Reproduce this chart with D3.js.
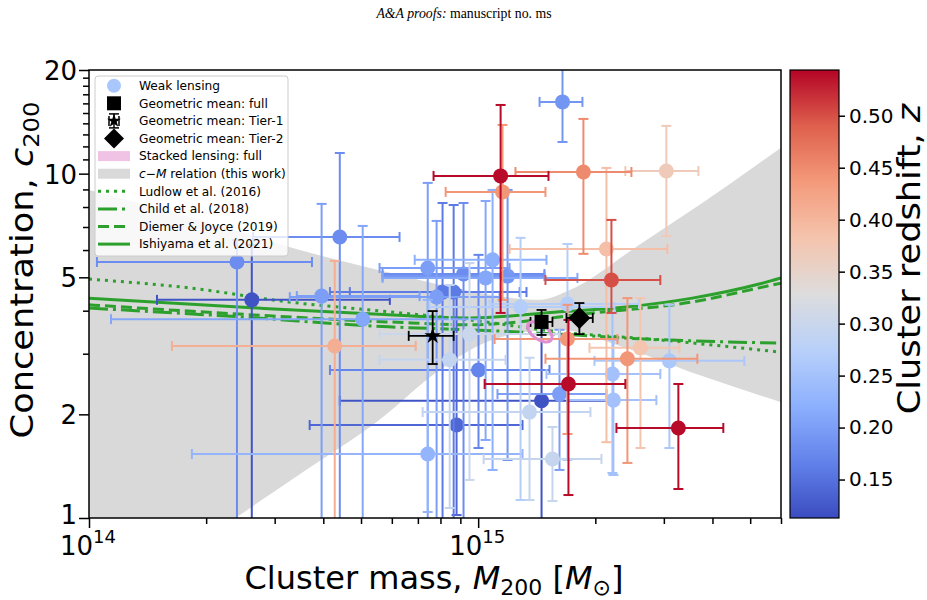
<!DOCTYPE html>
<html>
<head>
<meta charset="utf-8">
<script src="https://cdn.jsdelivr.net/npm/d3@7"></script>
<style>
  body { margin: 0; background: #fff; }
  svg { display: block; }
  text { font-family: "DejaVu Sans", sans-serif; fill: #000; }
</style>
</head>
<body>
<svg id="chart" width="927" height="600"></svg>
<script>
// masses in units of 1e14 Msun
const clusterMass = [16.47, 11.42, 11.55, 18.64, 30.45, 21.36, 22.0, 17.06, 16.96, 26.12,
  24.18, 31.0, 22.13, 22.26, 32.69, 10.02, 16.18, 14.55, 13.55, 15.52,
  8.80, 7.42, 8.45, 9.50, 2.40, 2.62, 3.96, 4.28, 5.05, 4.41,
  7.42, 10.89, 9.17, 10.45, 11.9, 8.10, 8.65, 7.82, 12.85, 16.96];
const clusterConc = [16.16, 9.85, 8.85, 10.11, 10.18, 6.04, 4.91, 2.45, 3.31, 3.12,
  2.90, 2.86, 2.62, 2.20, 1.826, 2.69, 2.29, 2.19, 2.03, 1.484,
  1.862, 1.534, 2.88, 3.42, 5.54, 4.30, 4.41, 3.16, 3.78, 6.55,
  5.32, 5.62, 5.11, 4.98, 5.04, 4.53, 4.53, 4.38, 4.10, 4.18];
const massLow = [14.38, 7.68, 8.25, 12.47, 23.89, 12.04, 14.89, 10.39, 11.02, 19.32,
  14.89, 19.9, 14.98, 16.96, 22.66, 4.16, 11.21, 4.41, 7.20, 10.33,
  3.69, 1.838, 5.58, 5.58, 1.048, 1.495, 3.42, 1.633, 1.139, 2.64,
  5.58, 6.87, 5.68, 5.68, 5.68, 4.16, 4.68, 3.28, 7.50, 10.7];
const massHigh = [18.53, 15.16, 14.89, 24.76, 36.8, 30.63, 29.38, 23.89, 22.8, 32.9,
  36.58, 48.3, 29.38, 28.7, 42.65, 15.25, 21.36, 22.0, 19.43, 20.74,
  13.0, 13.0, 11.76, 16.18, 3.74, 5.93, 7.07, 6.91, 10.08, 6.28,
  12.04, 14.98, 14.8, 17.99, 14.8, 13.31, 12.78, 11.35, 22.39, 25.9];
const concLow = [12.36, 3.94, 4.30, 5.85, 6.59, 1.66, 3.94, 1.166, 1.754, 1.597,
  1.445, 1.597, 1.351, 1.333, 1.214, 1.597, 1.379, 0.9, 1.128, 1.12,
  1.02, 1.041, 1.069, 1.29, 0.9, 0.9, 0.9, 0.9, 0.9, 0.9,
  0.9, 1.379, 0.9, 1.685, 1.474, 0.9, 0.9, 0.9, 1.128, 1.474];
const concHigh = [20.3, 15.83, 13.85, 14.42, 13.76, 10.39, 7.34, 3.76, 4.16, 4.35,
  4.35, 4.16, 3.94, 3.29, 2.45, 5.81, 3.52, 3.64, 2.92, 1.838,
  4.59, 4.30, 4.75, 5.50, 6.42, 6.21, 8.17, 5.58, 7.05, 11.48,
  9.40, 8.97, 8.22, 8.33, 8.97, 8.22, 8.11, 7.29, 6.51, 6.25];
const clusterZ = [0.19, 0.54, 0.44, 0.45, 0.37, 0.39, 0.50, 0.54, 0.44, 0.38,
  0.44, 0.26, 0.25, 0.25, 0.54, 0.17, 0.20, 0.12, 0.29, 0.295,
  0.14, 0.23, 0.29, 0.30, 0.18, 0.12, 0.20, 0.41, 0.21, 0.18,
  0.20, 0.22, 0.18, 0.21, 0.19, 0.16, 0.16, 0.20, 0.27, 0.27];

// geometric means: full, Tier-1, Tier-2
const meanNames = ['full', 'tier1', 'tier2'];
const meanMass = [14.55, 7.64, 18.2];
const meanConc = [3.71, 3.38, 3.81];
const meanMassLow = [13.63, 6.63, 16.86];
const meanMassHigh = [15.52, 8.65, 19.7];
const meanConcLow = [3.40, 2.80, 3.42];
const meanConcHigh = [4.02, 3.99, 4.21];

// stacked lensing result
const stackedMass = 14.4;
const stackedConc = 3.47;

// c-M relation band (this work)
const bandUpperMass = [1.0, 1.93, 3.48, 6.28, 10.1, 14.4, 17.2, 25.9, 37.0, 60];
const bandUpperConc = [8.97, 7.34, 6.00, 5.08, 4.50, 4.30, 4.59, 6.21, 8.11, 11.9];
const bandLowerMass = [1.0, 2.38, 3.48, 5.58, 7.96, 10.1, 12.8, 16.2, 22.7, 37.0, 60];
const bandLowerConc = [0.5, 1.0, 1.34, 1.93, 2.69, 3.18, 3.45, 3.52, 3.18, 2.60, 2.17];

// literature c-M relations
const ludlowMass = [1.0, 1.806, 3.26, 5.89, 9.51, 16.18, 29.2, 60];
const ludlowConc = [4.94, 4.66, 4.24, 3.97, 3.76, 3.47, 3.29, 3.03];
const childMass = [1.0, 2.43, 5.89, 9.51, 16.18, 24.0, 58.3];
const childConc = [4.07, 3.84, 3.59, 3.52, 3.42, 3.33, 3.22];
const diemerMass = [1.0, 2.43, 5.89, 9.51, 19.7, 35.5, 52.7, 60];
const diemerConc = [4.16, 3.91, 3.71, 3.64, 3.94, 4.24, 4.66, 4.81];
const ishiyamaMass = [1.0, 2.43, 5.89, 9.51, 16.18, 24.0, 35.5, 52.7, 60];
const ishiyamaConc = [4.35, 4.10, 3.89, 3.81, 3.97, 4.10, 4.35, 4.78, 4.98];

const xMajor = [1, 10];
const xMajorLabels = ['14', '15'];
const xMinor = [2, 3, 4, 5, 6, 7, 8, 9, 20, 30, 40, 50, 60];
const yLabelled = [1, 2, 5, 10, 20];
const yMinor = [3, 4, 6, 7, 8, 9, 11, 12, 13, 14, 15, 16, 17, 18, 19];
const zTicks = [0.15, 0.20, 0.25, 0.30, 0.35, 0.40, 0.45, 0.50];
const zRange = [0.113, 0.544];

const legendLabels = ['Weak lensing', 'Geometric mean: full', 'Geometric mean: Tier-1',
  'Geometric mean: Tier-2', 'Stacked lensing: full', 'c\u2212M relation (this work)',
  'Ludlow et al. (2016)', 'Child et al. (2018)', 'Diemer & Joyce (2019)', 'Ishiyama et al. (2021)'];

// coolwarm colormap stops
const coolwarmStops = ['#3b4cc0', '#6282ea', '#8db0fe', '#b8d0f9', '#dddddd',
  '#f5c4ad', '#f49a7b', '#de604d', '#b40426'];

const svg = d3.select('#chart');
const plotL = 89, plotR = 781, plotT = 70, plotB = 518;
const green = '#2ca02c';

const x = d3.scaleLog().domain([1, 60]).range([plotL, plotR]);
const y = d3.scaleLog().domain([1, 20]).range([plotB, plotT]);
const zNorm = d3.scaleLinear().domain(zRange).range([0, 1]).clamp(true);
const coolwarm = d3.scaleLinear()
  .domain(d3.range(coolwarmStops.length).map(i => i / (coolwarmStops.length - 1)))
  .range(coolwarmStops)
  .interpolate(d3.interpolateRgb);
const zColor = z => coolwarm(zNorm(z));

const defs = svg.append('defs');
defs.append('clipPath').attr('id', 'clip')
  .append('rect')
  .attr('x', plotL).attr('y', plotT)
  .attr('width', plotR - plotL).attr('height', plotB - plotT);

// title
const title = svg.append('text')
  .attr('x', 464).attr('y', 18)
  .attr('text-anchor', 'middle')
  .style('font-family', '"Liberation Serif", serif')
  .style('font-size', '13.8px');
title.append('tspan').style('font-style', 'italic').text('A&A proofs:');
title.append('tspan').text(' manuscript no. ms');

const plot = svg.append('g').attr('clip-path', 'url(#clip)');

// grey band
const lineGen = d3.line().x(d => x(d[0])).y(d => y(d[1])).curve(d3.curveMonotoneX);
const upperPts = bandUpperMass.map((m, i) => [m, bandUpperConc[i]]);
const lowerPts = bandLowerMass.map((m, i) => [m, bandLowerConc[i]]);
const upperPath = lineGen(upperPts);
const lowerPath = lineGen(lowerPts.slice().reverse());
plot.append('path')
  .attr('d', upperPath + 'L' + lowerPath.slice(1) + 'Z')
  .attr('fill', '#d9d9d9');

// model lines
const models = [
  { m: ludlowMass, c: ludlowConc, dash: '3,5' },
  { m: childMass, c: childConc, dash: '19,5,3,5' },
  { m: diemerMass, c: diemerConc, dash: '11,5' },
  { m: ishiyamaMass, c: ishiyamaConc, dash: null }
];
models.forEach(md => {
  plot.append('path')
    .attr('d', lineGen(md.m.map((m, i) => [m, md.c[i]])))
    .attr('fill', 'none')
    .attr('stroke', green)
    .attr('stroke-width', 3)
    .attr('stroke-dasharray', md.dash);
});

// weak-lensing clusters, drawn low z first
const order = d3.range(clusterMass.length).sort((a, b) => clusterZ[a] - clusterZ[b]);
const cap = 5;
order.forEach(i => {
  const col = zColor(clusterZ[i]);
  const g = plot.append('g').attr('stroke', col).attr('stroke-width', 2);
  const cx = x(clusterMass[i]), cy = y(clusterConc[i]);
  const x0 = x(massLow[i]), x1 = x(massHigh[i]);
  const y0 = y(concLow[i]), y1 = y(concHigh[i]);
  g.append('line').attr('x1', x0).attr('x2', x1).attr('y1', cy).attr('y2', cy);
  g.append('line').attr('x1', cx).attr('x2', cx).attr('y1', y0).attr('y2', y1);
  [x0, x1].forEach(v => g.append('line').attr('x1', v).attr('x2', v).attr('y1', cy - cap).attr('y2', cy + cap));
  [y0, y1].forEach(v => g.append('line').attr('y1', v).attr('y2', v).attr('x1', cx - cap).attr('x2', cx + cap));
  plot.append('circle')
    .attr('cx', cx).attr('cy', cy).attr('r', 7.5)
    .attr('fill', col);
});

// geometric means: error bars first
const diamondPath = r => `M0,${-r}L${r},0L0,${r}L${-r},0Z`;
meanNames.forEach((name, i) => {
  const cx = x(meanMass[i]), cy = y(meanConc[i]);
  const x0 = x(meanMassLow[i]), x1 = x(meanMassHigh[i]);
  const y0 = y(meanConcLow[i]), y1 = y(meanConcHigh[i]);
  const g = plot.append('g').attr('stroke', '#000').attr('stroke-width', 1.8);
  g.append('line').attr('x1', x0).attr('x2', x1).attr('y1', cy).attr('y2', cy);
  g.append('line').attr('x1', cx).attr('x2', cx).attr('y1', y0).attr('y2', y1);
  [x0, x1].forEach(v => g.append('line').attr('x1', v).attr('x2', v).attr('y1', cy - cap).attr('y2', cy + cap));
  [y0, y1].forEach(v => g.append('line').attr('y1', v).attr('y2', v).attr('x1', cx - cap).attr('x2', cx + cap));
});

// stacked lensing contour
plot.append('ellipse')
  .attr('cx', x(stackedMass)).attr('cy', y(stackedConc))
  .attr('rx', 14).attr('ry', 7.5)
  .attr('transform', `rotate(35, ${x(stackedMass)}, ${y(stackedConc)})`)
  .attr('fill', 'none')
  .attr('stroke', '#e08fd0')
  .attr('stroke-width', 3);

meanNames.forEach((name, i) => {
  const cx = x(meanMass[i]), cy = y(meanConc[i]);
  const mk = plot.append('path').attr('transform', `translate(${cx},${cy})`).attr('fill', '#000');
  if (name === 'full') mk.attr('d', d3.symbol(d3.symbolSquare).size(196)());
  else if (name === 'tier1') mk.attr('d', d3.symbol(d3.symbolStar).size(85)());
  else mk.attr('d', diamondPath(11));
});

// axes
const xAxisMinor = svg.append('g').attr('transform', `translate(0,${plotB})`)
  .call(d3.axisBottom(x).tickValues(xMinor).tickSize(6).tickFormat(''));
const xAxisMajor = svg.append('g').attr('transform', `translate(0,${plotB})`)
  .call(d3.axisBottom(x).tickValues(xMajor).tickSize(10).tickFormat(''));
const yAxisMinor = svg.append('g').attr('transform', `translate(${plotL},0)`)
  .call(d3.axisLeft(y).tickValues(yMinor).tickSize(6).tickFormat(''));
const yAxisMajor = svg.append('g').attr('transform', `translate(${plotL},0)`)
  .call(d3.axisLeft(y).tickValues(yLabelled).tickSize(10).tickFormat(d3.format('d')));
[xAxisMinor, xAxisMajor, yAxisMinor, yAxisMajor].forEach(a => {
  a.select('.domain').remove();
  a.selectAll('line').attr('stroke', '#000').attr('stroke-width', 1.5);
});
yAxisMajor.selectAll('text')
  .attr('x', -12)
  .attr('dy', '0.36em')
  .attr('fill', '#000')
  .style('font-size', '26px')
  .style('font-family', '"DejaVu Sans", sans-serif');
// the bottom "1" sits slightly high, clear of the 10^14 label
yAxisMajor.selectAll('.tick').filter(d => d === 1).select('text').attr('dy', '0.2em');

xMajor.forEach((v, i) => {
  const t = svg.append('text')
    .attr('x', x(v) - 1).attr('y', 555)
    .attr('text-anchor', 'middle')
    .style('font-size', '26px');
  t.append('tspan').text('10');
  t.append('tspan').attr('dy', -12).style('font-size', '18px').text(xMajorLabels[i]);
});

svg.append('rect')
  .attr('x', plotL).attr('y', plotT)
  .attr('width', plotR - plotL).attr('height', plotB - plotT)
  .attr('fill', 'none').attr('stroke', '#000').attr('stroke-width', 1.5);

// axis labels
const xl = svg.append('text')
  .attr('x', 434).attr('y', 589)
  .attr('text-anchor', 'middle')
  .style('font-size', '32px');
xl.append('tspan').text('Cluster mass, ');
xl.append('tspan').style('font-style', 'italic').text('M');
xl.append('tspan').attr('dy', 6).style('font-size', '22px').text('200');
xl.append('tspan').attr('dy', -6).text(' [');
xl.append('tspan').style('font-style', 'italic').text('M');
xl.append('tspan').attr('dy', 6).style('font-size', '22px').text('\u2299');
xl.append('tspan').attr('dy', -6).text(']');

const yl = svg.append('text')
  .attr('transform', 'translate(33,270) rotate(-90) scale(1.1,1)')
  .attr('text-anchor', 'middle')
  .style('font-size', '32px');
yl.append('tspan').text('Concentration, ');
yl.append('tspan').style('font-style', 'italic').text('c');
yl.append('tspan').attr('dy', 6).style('font-size', '22px').text('200');

// colorbar
const cbX = 790, cbW = 49;
const grad = defs.append('linearGradient').attr('id', 'cbgrad')
  .attr('x1', 0).attr('x2', 0).attr('y1', 1).attr('y2', 0);
coolwarmStops.forEach((c, i) => {
  grad.append('stop').attr('offset', i / (coolwarmStops.length - 1)).attr('stop-color', c);
});
svg.append('rect')
  .attr('x', cbX).attr('y', plotT)
  .attr('width', cbW).attr('height', plotB - plotT)
  .attr('fill', 'url(#cbgrad)')
  .attr('stroke', '#000').attr('stroke-width', 1.2);
const zs = d3.scaleLinear().domain(zRange).range([plotB, plotT]);
const cbAxis = svg.append('g').attr('transform', `translate(${cbX + cbW},0)`)
  .call(d3.axisRight(zs).tickValues(zTicks).tickSize(6).tickFormat(d3.format('.2f')));
cbAxis.select('.domain').remove();
cbAxis.selectAll('line').attr('stroke', '#000').attr('stroke-width', 1.5);
cbAxis.selectAll('text')
  .attr('x', 10)
  .attr('fill', '#000')
  .style('font-size', '20px')
  .style('font-family', '"DejaVu Sans", sans-serif');

const cl = svg.append('text')
  .attr('transform', 'translate(920,259) rotate(-90) scale(1.1,1)')
  .attr('text-anchor', 'middle')
  .style('font-size', '32px');
cl.append('tspan').text('Cluster redshift, ');
cl.append('tspan').style('font-style', 'italic').text('z');

// legend
const lg = svg.append('g');
lg.append('rect')
  .attr('x', 95).attr('y', 76).attr('width', 193).attr('height', 180)
  .attr('rx', 3)
  .attr('fill', '#fff').attr('fill-opacity', 0.8)
  .attr('stroke', '#cccccc').attr('stroke-width', 1);
const hx = 114;
legendLabels.forEach((lab, i) => {
  const ry = 85.7 + i * 17.6;
  const t = lg.append('text')
    .attr('x', 139).attr('y', ry)
    .attr('dy', '0.35em')
    .style('font-size', '12.2px');
  if (i === 5) {
    t.append('tspan').style('font-style', 'italic').text('c');
    t.append('tspan').text('\u2212');
    t.append('tspan').style('font-style', 'italic').text('M');
    t.append('tspan').text(' relation (this work)');
  } else {
    t.text(lab);
  }
  if (i === 0) {
    lg.append('circle').attr('cx', hx).attr('cy', ry).attr('r', 7).attr('fill', '#aac7fd');
  } else if (i === 1) {
    lg.append('path').attr('transform', `translate(${hx},${ry})`)
      .attr('d', d3.symbol(d3.symbolSquare).size(196)()).attr('fill', '#000');
  } else if (i === 2) {
    const g = lg.append('g').attr('stroke', '#000').attr('stroke-width', 1.5);
    g.append('line').attr('x1', hx - 5).attr('x2', hx + 5).attr('y1', ry - 7).attr('y2', ry - 7);
    g.append('line').attr('x1', hx - 5).attr('x2', hx + 5).attr('y1', ry + 7).attr('y2', ry + 7);
    g.append('line').attr('x1', hx - 5).attr('x2', hx - 5).attr('y1', ry - 5).attr('y2', ry + 5);
    g.append('line').attr('x1', hx + 5).attr('x2', hx + 5).attr('y1', ry - 5).attr('y2', ry + 5);
    g.append('line').attr('x1', hx).attr('x2', hx).attr('y1', ry - 7).attr('y2', ry + 7);
    lg.append('path').attr('transform', `translate(${hx},${ry})`)
      .attr('d', d3.symbol(d3.symbolStar).size(60)()).attr('fill', '#000');
  } else if (i === 3) {
    lg.append('path').attr('transform', `translate(${hx},${ry})`)
      .attr('d', diamondPath(10)).attr('fill', '#000');
  } else if (i === 4 || i === 5) {
    lg.append('rect').attr('x', 98).attr('y', ry - 5).attr('width', 32).attr('height', 10)
      .attr('fill', i === 4 ? '#f0c2e3' : '#d9d9d9');
  } else {
    lg.append('line').attr('x1', 98).attr('x2', 130).attr('y1', ry).attr('y2', ry)
      .attr('stroke', green).attr('stroke-width', 3)
      .attr('stroke-dasharray', models[i - 6].dash);
  }
});
</script>
</body>
</html>
